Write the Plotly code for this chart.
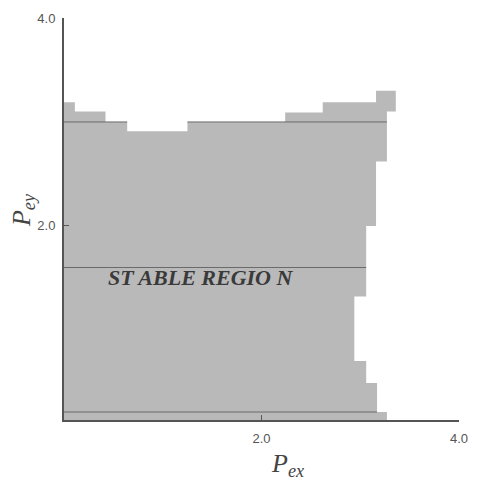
import plotly.graph_objects as go

# Top boundary of the stable region: column edges (Pex) and top height (Pey)
top_x_edges = [0.0, 0.11, 0.42, 0.64, 1.25, 2.24, 2.62, 3.16, 3.36]
top_heights = [3.19, 3.10, 3.00, 2.91, 3.00, 3.09, 3.19, 3.30]

# Right boundary: row edges (Pey, descending) and right extent (Pex)
right_y_edges = [3.30, 3.10, 2.62, 2.00, 1.32, 0.70, 0.49, 0.21, 0.133]
right_extent = [3.36, 3.27, 3.16, 3.06, 2.94, 3.06, 3.17, 3.27]

# Horizontal reference line segments visible inside the region
hline_y = [3.00, 3.00, 1.60, 0.21]
hline_xstart = [0.0, 1.25, 0.0, 0.0]
hline_xend = [0.64, 3.27, 3.06, 3.17]

x_range = [0.0, 4.0]
y_range = [0.133, 4.0]
tick_vals = [2.0, 4.0]
tick_text = ["2.0", "4.0"]

# build polygon
px, py = [0.0], [y_range[0]]
for i, h in enumerate(top_heights):
    px += [top_x_edges[i], top_x_edges[i + 1]]
    py += [h, h]
for j, rx in enumerate(right_extent):
    px += [rx, rx]
    py += [right_y_edges[j], right_y_edges[j + 1]]
px.append(0.0)
py.append(y_range[0])

fig = go.Figure()
fig.add_trace(go.Scatter(
    x=px, y=py, mode="lines", fill="toself",
    fillcolor="#b9b9b9", line=dict(width=0, color="#b9b9b9"),
    hoverinfo="skip", showlegend=False))

for yv, xs, xe in zip(hline_y, hline_xstart, hline_xend):
    fig.add_trace(go.Scatter(
        x=[xs, xe], y=[yv, yv], mode="lines",
        line=dict(color="#6a6a6a", width=1), hoverinfo="skip", showlegend=False))

fig.add_annotation(
    x=1.39, y=1.50, xref="x", yref="y", showarrow=False,
    text="<b><i>ST ABLE REGIO N</i></b>",
    font=dict(family="Liberation Serif", size=22, color="#3a3a3a"))

title_font = dict(family="Liberation Serif", size=26, color="#444444")
fig.add_annotation(
    x=0.567, y=-0.113, xref="paper", yref="paper", showarrow=False,
    xanchor="center", yanchor="middle",
    text="<i>P</i><sub><i>ex</i></sub>", font=title_font)
fig.add_annotation(
    x=-0.104, y=0.522, xref="paper", yref="paper", showarrow=False,
    xanchor="center", yanchor="middle", textangle=-90,
    text="<i>P</i><sub><i>ey</i></sub>", font=title_font)

axis_common = dict(
    showgrid=False, zeroline=False, showline=True, linecolor="#555555",
    linewidth=2, ticks="inside", ticklen=5, tickcolor="#555555",
    tickvals=tick_vals, ticktext=tick_text,
    tickfont=dict(family="Liberation Sans", size=13, color="#555555"),
    mirror=False)

fig.update_xaxes(range=x_range, **axis_common, ticklabelstandoff=5)
fig.update_yaxes(range=y_range, **axis_common, ticklabelstandoff=4)

fig.update_layout(
    width=479, height=483,
    margin=dict(l=64, r=11, t=12, b=63),
    plot_bgcolor="white", paper_bgcolor="white")

fig.write_html("out.html")
